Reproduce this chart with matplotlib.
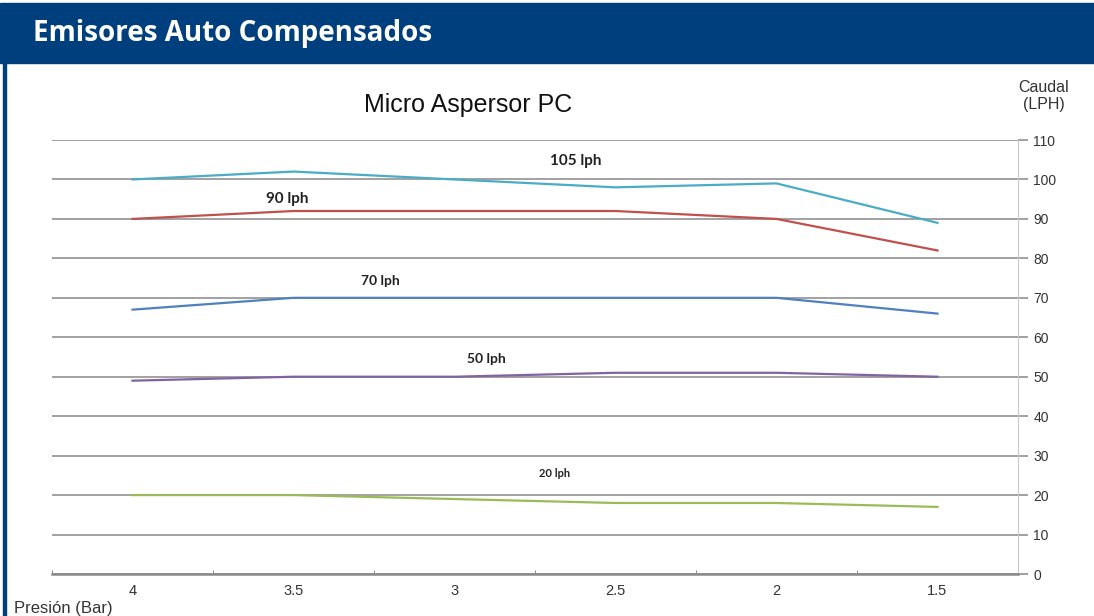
import matplotlib.pyplot as plt
from matplotlib.patches import Rectangle

presion = ['4', '3.5', '3', '2.5', '2', '1.5']
q105 = [100, 102, 100, 98, 99, 89]
q90 = [90, 92, 92, 92, 90, 82]
q70 = [67, 70, 70, 70, 70, 66]
q50 = [49, 50, 50, 51, 51, 50]
q20 = [20, 20, 19, 18, 18, 17]
yticks = [0, 10, 20, 30, 40, 50, 60, 70, 80, 90, 100, 110]

series = [(q105, '#4bacc6', '105 lph', 2.75, 104.7, 11),
          (q90, '#c0504d', '90 lph', 0.96, 95.1, 11),
          (q70, '#4f81bd', '70 lph', 1.54, 74.3, 10),
          (q50, '#8064a2', '50 lph', 2.2, 54.5, 10),
          (q20, '#9bbb59', '20 lph', 2.62, 25.4, 8)]

fig = plt.figure(figsize=(10.94, 6.16), dpi=100)

# banda de titulo y borde izquierdo
fig.patches.append(Rectangle((0, 1 - 63/616), 1, 60/616, transform=fig.transFigure,
                             color='#003f7d', zorder=0))
fig.patches.append(Rectangle((3/1094, 0), 3/1094, 1 - 63/616, transform=fig.transFigure,
                             color='#003f7d', zorder=0))
fig.text(33/1094, 1 - 33/616, 'Emisores Auto Compensados', color='white', fontsize=20,
         fontweight='bold', family='Open Sans', va='center', ha='left')

ax = fig.add_axes([52/1094, 42/616, 966/1094, 434/616])
x = list(range(len(presion)))
for vals, col, lab, lx, ly, fs in series:
    ax.plot(x, vals, color=col, lw=1.6, zorder=3)
    ax.text(lx, ly, lab, fontsize=fs, fontweight='bold', family='Lato',
            color='#222222', ha='center', va='center')

ax.set_xlim(-0.5, 5.5)
ax.set_ylim(0, 110)
ax.set_xticks(x)
ax.set_xticklabels(presion)
ax.set_xticks([i + 0.5 for i in range(-1, 6)], minor=True)
ax.set_yticks(yticks)
ax.yaxis.tick_right()
ax.grid(axis='y', color='#9a9a9a', lw=1.3, zorder=1)
ax.tick_params(axis='y', direction='out', length=7, width=1.3, color='#9a9a9a',
               labelsize=10, labelcolor='#333333', pad=4)
ax.tick_params(axis='x', which='major', length=0, labelsize=10.5, labelcolor='#333333', pad=7)
ax.tick_params(axis='x', which='minor', direction='in', length=3, color='#777777')
for lab in ax.get_yticklabels() + ax.get_xticklabels():
    lab.set_family('Liberation Sans')
ax.spines['top'].set_visible(False)
ax.spines['left'].set_visible(False)
ax.spines['right'].set_color('#c8c8c8')
ax.spines['bottom'].set_color('#8a8a8a')
ax.spines['bottom'].set_linewidth(1.8)

fig.text(468/1094, 1 - 105/616, 'Micro Aspersor PC', fontsize=18, family='Liberation Sans',
         ha='center', va='center', color='#111111')
fig.text(1044/1094, 1 - 96/616, 'Caudal\n(LPH)', fontsize=11.5, family='Liberation Sans',
         ha='center', va='center', color='#333333', linespacing=1.2)
fig.text(14/1094, 1 - 608/616, 'Presión (Bar)', fontsize=12, family='Liberation Sans',
         ha='left', va='center', color='#333333')

plt.savefig('out.png', dpi=100)
